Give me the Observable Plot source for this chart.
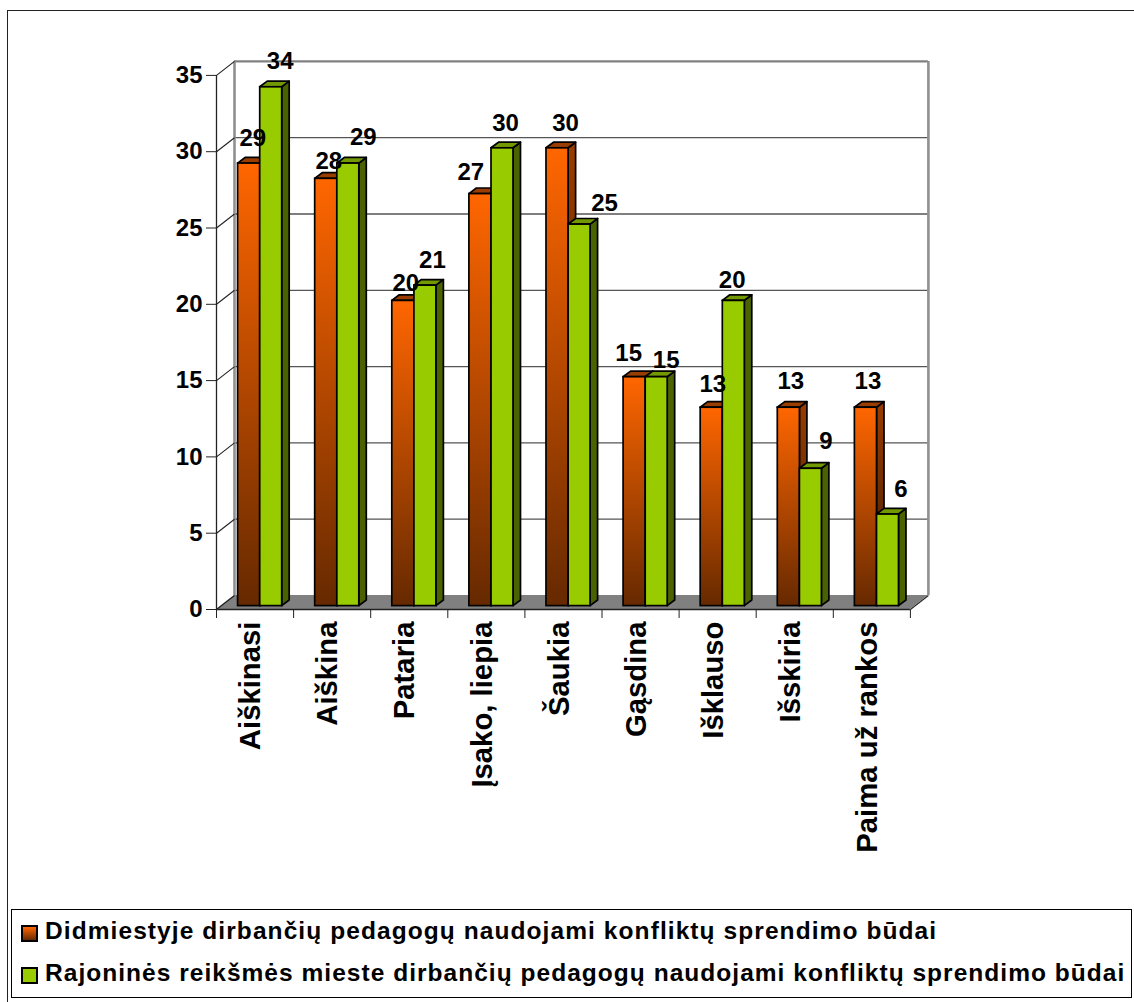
<!DOCTYPE html>
<html lang="lt">
<head>
<meta charset="utf-8">
<script src="https://cdn.jsdelivr.net/npm/d3@7"></script>
<script src="https://cdn.jsdelivr.net/npm/@observablehq/plot@0.6"></script>
<style>
  html, body { margin: 0; padding: 0; background: #fff; }
  #page { position: relative; width: 1134px; height: 1002px; overflow: hidden; font-family: "Liberation Sans", Arial, sans-serif; }
  #page svg.chart { position: absolute; left: 0; top: 0; }
  #frameTop { position: absolute; left: 7px; right: 0; top: 10px; border-top: 1px solid #222; }
  #frameLeft { position: absolute; left: 7px; top: 10px; bottom: 0; border-left: 1px solid #222; }
  #legend { position: absolute; left: 11px; top: 909px; width: 1119px; height: 87px; border: 1px solid #000; background: #fff; }
  .item { position: absolute; left: 33px; font-weight: bold; font-size: 24.5px; line-height: 26px; white-space: nowrap; color: #000; }
  .swatch { position: absolute; left: 9px; width: 13px; height: 13px; border: 2px solid #000; }
</style>
</head>
<body>
<svg width="0" height="0" style="position:absolute">
  <defs>
    <linearGradient id="orangeFront" x1="0" y1="0" x2="0" y2="1">
      <stop offset="0" stop-color="#ff6600"/><stop offset="1" stop-color="#662900"/>
    </linearGradient>
    <linearGradient id="orangeSide" x1="0" y1="0" x2="0" y2="1">
      <stop offset="0" stop-color="#993d00"/><stop offset="1" stop-color="#3d1800"/>
    </linearGradient>
  </defs>
</svg>
<div id="page">
  <div id="frameTop"></div><div id="frameLeft"></div>
  <div id="legend"></div>
</div>
<script>
const categories = ["Aiškinasi", "Aiškina", "Pataria", "Įsako, liepia", "Šaukia", "Gąsdina", "Išklauso", "Išskiria", "Paima už rankos"];
const seriesNames = [
  "Didmiestyje dirbančių pedagogų naudojami konfliktų sprendimo būdai",
  "Rajoninės reikšmės mieste dirbančių pedagogų naudojami konfliktų sprendimo būdai"
];
const cityValues = [29, 28, 20, 27, 30, 15, 13, 13, 13];
const districtValues = [34, 29, 21, 30, 25, 15, 20, 9, 6];
const yTicks = [0, 5, 10, 15, 20, 25, 30, 35];

// label nudges, in pixels, from the centre/top of each bar
const cityNudgeX = [3.6, 2.5, 2.4, -9.7, 8, -6, 1, 2, 2];
const cityNudgeY = [-25, -18, -18, -22, -25, -24, -23, -26, -26];
const districtNudgeX = [9, 15, 7, 3, 25, 9.5, -1.6, 15, 13];
const districtNudgeY = [-26, -26, -25, -25, -21, -17, -21, -27, -25];

// pseudo-3D geometry
const n = categories.length;
const pxX = 77.1, pxY = 15.26;          // pixels per category, per value
const wallX = 18 / pxX, wallY = 14 / pxY; // depth of the floor
const barX = 7.5 / pxX, barY = 5.6 / pxY; // depth of each bar
const base = 3.4 / pxY;                   // bars stand slightly inside the floor
const slot = { city: [0.28, 0.567], district: [0.567, 0.852] };
const style = {
  city: { front: "url(#orangeFront)", side: "url(#orangeSide)", top: "#993d00" },
  district: { front: "#99cc00", side: "#4a6200", top: "#739900" }
};

const bars = [
  ...cityValues.map((v, i) => ({ key: "city", i, v, nx: cityNudgeX[i], ny: cityNudgeY[i] })),
  ...districtValues.map((v, i) => ({ key: "district", i, v, nx: districtNudgeX[i], ny: districtNudgeY[i] }))
].map(d => ({ ...d, x1: d.i + slot[d.key][0], x2: d.i + slot[d.key][1], y1: base, y2: base + d.v }));

// parallelogram for a horizontal face, as area points
const flat = (x1, x2, y, dx, dy, z) => [
  { x: x1, y1: y, y2: y, z }, { x: x1 + dx, y1: y, y2: y + dy, z },
  { x: x2, y1: y, y2: y + dy, z }, { x: x2 + dx, y1: y + dy, y2: y + dy, z }
];
const sideFace = d => [
  { x: d.x2, y1: d.y1, y2: d.y2, z: d.key + d.i }, { x: d.x2 + barX, y1: d.y1 + barY, y2: d.y2 + barY, z: d.key + d.i }
];
const topFace = d => flat(d.x1, d.x2, d.y2, barX, barY, d.key + d.i);

const barMarks = key => {
  const rows = bars.filter(d => d.key === key), s = style[key], line = { stroke: "#000", strokeWidth: 1.7 };
  return [
    Plot.areaY(rows.flatMap(sideFace), { x: "x", y1: "y1", y2: "y2", z: "z", fill: s.side, ...line }),
    Plot.areaY(rows.flatMap(topFace), { x: "x", y1: "y1", y2: "y2", z: "z", fill: s.top, ...line }),
    Plot.rect(rows, { x1: "x1", x2: "x2", y1: "y1", y2: "y2", fill: s.front, ...line })
  ];
};

const marginLeft = 216, marginTop = 62, svgHeight = 900, front = 609;
const chart = Plot.plot({
  width: 1134, height: svgHeight,
  marginLeft, marginTop, marginRight: 1134 - 216 - (n + wallX) * pxX, marginBottom: svgHeight - front,
  style: { fontFamily: "'Liberation Sans', Arial, sans-serif", background: "transparent", overflow: "visible" },
  x: { type: "linear", domain: [0, n + wallX] },
  y: { type: "linear", domain: [0, (front - marginTop) / pxY] },
  marks: [
    // floor and walls
    Plot.areaY(flat(0, n, 0, wallX, wallY, "floor"), { x: "x", y1: "y1", y2: "y2", z: "z", fill: "#808080" }),
    Plot.ruleY(yTicks.slice(1, -1), { y: t => t + wallY, x1: wallX, x2: n + wallX, stroke: "#555", strokeWidth: 1.3 }),
    Plot.ruleY([35], { y: t => t + wallY, x1: wallX, x2: n + wallX, stroke: "#808080", strokeWidth: 2.4 }),
    Plot.ruleX([wallX, n + wallX], { y1: wallY, y2: 35 + wallY, stroke: "#909090", strokeWidth: 2.6 }),
    Plot.link(yTicks, { x1: 0, x2: wallX, y1: t => t, y2: t => t + wallY, stroke: "#222", strokeWidth: 1.1 }),
    Plot.link([0], { x1: n, x2: n + wallX, y1: 0, y2: wallY, stroke: "#222", strokeWidth: 1.1 }),
    // axes
    Plot.ruleX([0], { y1: 0, y2: 35, stroke: "#222", strokeWidth: 1.3 }),
    Plot.ruleY([0], { x1: 0, x2: n, stroke: "#222", strokeWidth: 1.3 }),
    Plot.axisY({ ticks: yTicks, tickSize: 10, tickPadding: 4, fontSize: 24, fontWeight: "bold", label: null, stroke: "#222", color: "#000", fill: "#000" }),
    Plot.axisX({ ticks: d3.range(n + 1), tickSize: 9, tickFormat: () => "", label: null, stroke: "#222" }),
    Plot.text(categories, { x: (d, i) => i + 0.445, y: 0, text: d => d, rotate: -90, textAnchor: "end", lineAnchor: "middle", dy: 12, fontSize: 29.3, fontWeight: "bold", fill: "#000" }),
    // bars
    ...barMarks("city"),
    ...barMarks("district"),
    // value labels
    Plot.text(bars, {
      x: d => (d.x1 + d.x2) / 2 + d.nx / pxX,
      y: d => d.y2 - d.ny / pxY,
      text: d => String(d.v),
      fontSize: 24, fontWeight: "bold", fill: "#000", lineAnchor: "middle", textAnchor: "middle"
    })
  ]
});
chart.classList.add("chart");
const page = document.getElementById("page");
page.insertBefore(chart, page.firstChild);

const legend = document.getElementById("legend");
const swatchFills = ["linear-gradient(#ff6600,#662900)", "#99cc00"];
const tops = [8, 50], swatchTops = [15, 57], spacing = ["1.08px", "1.03px"];
seriesNames.forEach((name, i) => {
  const sw = document.createElement("div");
  sw.className = "swatch"; sw.style.top = swatchTops[i] + "px"; sw.style.background = swatchFills[i];
  const t = document.createElement("div");
  t.className = "item"; t.style.top = tops[i] + "px"; t.style.letterSpacing = spacing[i]; t.textContent = name;
  legend.append(sw, t);
});
</script>
</body>
</html>
